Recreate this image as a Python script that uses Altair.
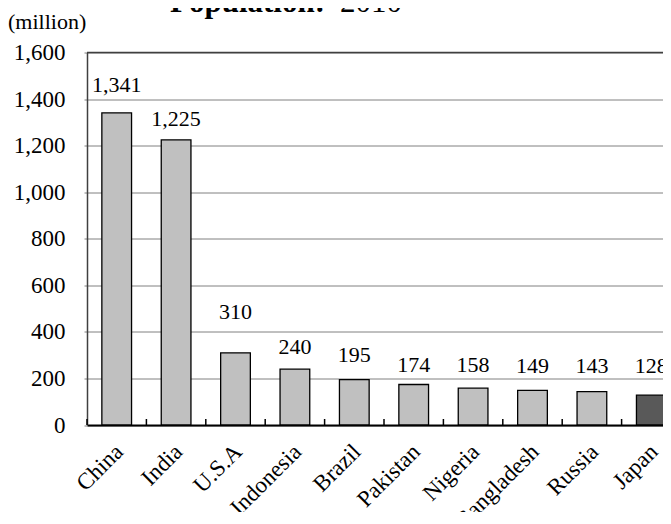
import altair as alt
import pandas as pd

countries = ["China", "India", "U.S.A", "Indonesia", "Brazil", "Pakistan",
             "Nigeria", "Bangladesh", "Russia", "Japan"]
population = [1341, 1225, 310, 240, 195, 174, 158, 149, 143, 128]
label_at = [1432, 1286, 457, 305, 271, 228, 226, 224, 222, 222]
highlight = ["no", "no", "no", "no", "no", "no", "no", "no", "no", "yes"]
y_ticks = [0, 200, 400, 600, 800, 1000, 1200, 1400, 1600]

df = pd.DataFrame({"country": countries, "pop": population,
                   "label_at": label_at, "hl": highlight})

FONT = "Liberation Serif"
W, H = 576, 372.5
FULL_W = 594  # the original plot area runs past the right edge of the picture

xscale = alt.Scale(paddingInner=0.5, paddingOuter=0.25, range=[0, FULL_W])

xenc = alt.X("country:N", sort=countries, scale=xscale,
             axis=alt.Axis(title=None, labelAngle=-45, labelAlign="right",
                           labelBaseline="top", labelFont=FONT, labelFontSize=23,
                           labelColor="black", labelPadding=15, labelOffset=-5,
                           ticks=False, domainColor="black", domainWidth=2,
                           grid=False))

yscale = alt.Scale(domain=[0, 1600], nice=False)

bars = alt.Chart(df).mark_bar(stroke="black", strokeWidth=1.3).encode(
    x=xenc,
    y=alt.Y("pop:Q", scale=yscale,
            axis=alt.Axis(title=None, values=y_ticks, format=",d",
                          labelFont=FONT, labelFontSize=23, labelColor="black",
                          labelPadding=19, tickSize=3, tickColor="#808080",
                          domainColor="#404040", domainWidth=1.5,
                          gridColor="#808080", gridWidth=1)),
    color=alt.Color("hl:N", scale=alt.Scale(domain=["no", "yes"],
                                            range=["#c0c0c0", "#595959"]),
                    legend=None),
)

labels = alt.Chart(df).mark_text(font=FONT, fontSize=22, color="black",
                                 baseline="alphabetic", align="center").encode(
    x=alt.X("country:N", sort=countries),
    y=alt.Y("label_at:Q", scale=yscale),
    text=alt.Text("pop:Q", format=",d"),
)

ticks = alt.Chart(df).mark_rule(color="black", strokeWidth=1.5,
                                xOffset=-29.7).encode(
    x=alt.X("country:N", sort=countries),
    y=alt.value(H),
    y2=alt.value(H - 6),
)

frame_top = alt.Chart(pd.DataFrame({"k": [0]})).mark_rule(
    color="#404040", strokeWidth=1.5).encode(
    x=alt.value(0), x2=alt.value(FULL_W), y=alt.value(0))

t1 = alt.Chart(pd.DataFrame({"t": ["Population:"]})).mark_text(
    font=FONT, fontSize=31, fontWeight="bold", color="black",
    align="left", baseline="alphabetic").encode(
    text="t:N", x=alt.value(83), y=alt.value(-41))

t2 = alt.Chart(pd.DataFrame({"t": ["2010"]})).mark_text(
    font=FONT, fontSize=31, color="black",
    align="left", baseline="alphabetic").encode(
    text="t:N", x=alt.value(253), y=alt.value(-41))

unit = alt.Chart(pd.DataFrame({"t": ["(million)"]})).mark_text(
    font=FONT, fontSize=22, color="black",
    align="left", baseline="alphabetic").encode(
    text="t:N", x=alt.value(-79), y=alt.value(-23.5))

chart = alt.layer(bars, ticks, frame_top, labels, t1, t2, unit).properties(
    width=W, height=H,
    autosize=alt.AutoSizeParams(type="none"),
    padding={"left": 79, "top": 44.5, "right": 0, "bottom": 87},
).configure_view(strokeWidth=0).configure(background="white")

chart.save("out.html", embed_options={"renderer": "svg", "actions": False})
